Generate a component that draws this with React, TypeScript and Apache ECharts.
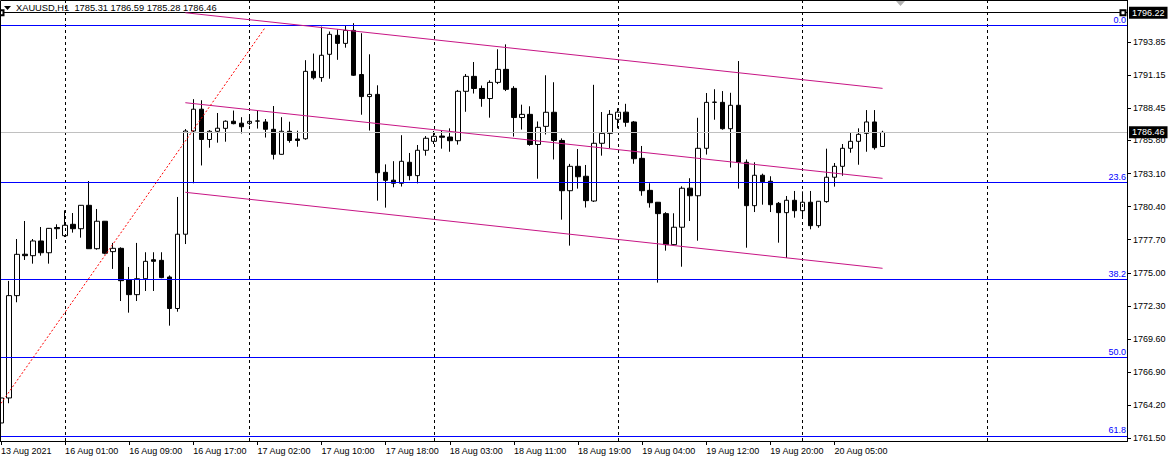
import React, { useEffect, useRef } from "react";
import * as echarts from "echarts";

// ---- data ----
const tickLabels = [
  "13 Aug 2021", "16 Aug 01:00", "16 Aug 09:00", "16 Aug 17:00", "17 Aug 02:00",
  "17 Aug 10:00", "17 Aug 18:00", "18 Aug 03:00", "18 Aug 11:00", "18 Aug 19:00",
  "19 Aug 04:00", "19 Aug 12:00", "19 Aug 20:00", "20 Aug 05:00",
];
const slotCount = 141; // visible bar slots incl. right shift
const categories = Array.from({ length: slotCount }, (_, i) => String(i));

const opens = [
  1762.75, 1764.79, 1773.14, 1776.52, 1776.40, 1777.60, 1776.64, 1778.70, 1778.03, 1778.96,
  1778.60, 1780.51, 1776.97, 1779.21, 1776.73, 1777.00, 1774.44, 1773.22, 1774.52, 1776.07,
  1776.02, 1774.66, 1772.09, 1778.15, 1786.57, 1788.35, 1785.88, 1786.55, 1786.79, 1787.37,
  1787.21, 1787.20, 1787.39, 1787.31, 1786.71, 1784.67, 1786.55, 1785.92, 1785.94, 1791.44,
  1790.93, 1792.83, 1794.38, 1793.72, 1794.78, 1791.18, 1789.38, 1789.56, 1783.20, 1782.56,
  1782.31, 1784.02, 1782.93, 1785.00, 1785.73, 1786.16, 1786.08, 1785.78, 1789.81, 1791.03,
  1790.04, 1789.22, 1790.54, 1791.60, 1790.05, 1787.67, 1787.93, 1785.47, 1786.95, 1788.10,
  1785.80, 1781.70, 1783.69, 1782.88, 1780.86, 1785.57, 1786.38, 1787.53, 1788.11, 1787.31,
  1784.34, 1781.73, 1780.76, 1779.83, 1777.30, 1778.72, 1781.91, 1781.29, 1785.16, 1788.91,
  1788.91, 1786.76, 1788.67, 1784.02, 1780.48, 1782.96, 1782.47, 1780.67, 1779.91, 1780.92,
  1780.07, 1780.76, 1778.85, 1780.81, 1782.80, 1783.69, 1785.16, 1785.73, 1786.38, 1787.31,
  1785.31,
];
const highs = [
  1765.69, 1774.34, 1777.76, 1779.23, 1777.76, 1778.74, 1778.66, 1778.96, 1780.10, 1779.88,
  1780.53, 1782.49, 1780.21, 1779.23, 1777.44, 1777.08, 1775.48, 1777.44, 1776.68, 1776.68,
  1776.68, 1774.79, 1781.19, 1786.73, 1789.17, 1789.08, 1786.65, 1788.04, 1787.44, 1788.24,
  1787.70, 1787.77, 1788.22, 1787.55, 1788.61, 1787.70, 1787.33, 1786.60, 1792.35, 1792.89,
  1795.09, 1794.69, 1794.86, 1795.16, 1795.37, 1794.55, 1792.83, 1790.30, 1783.85, 1784.11,
  1786.23, 1784.78, 1785.43, 1786.16, 1786.57, 1786.59, 1786.79, 1789.92, 1791.22, 1792.20,
  1790.28, 1790.71, 1793.24, 1793.64, 1790.23, 1788.72, 1788.59, 1787.35, 1791.12, 1790.55,
  1785.97, 1783.89, 1785.10, 1783.80, 1790.34, 1788.12, 1788.28, 1788.43, 1788.79, 1787.39,
  1785.35, 1782.31, 1780.78, 1779.95, 1779.86, 1782.06, 1782.72, 1787.65, 1789.67, 1789.98,
  1789.83, 1789.69, 1792.28, 1784.25, 1784.02, 1783.09, 1782.88, 1780.78, 1781.27, 1781.68,
  1781.65, 1781.68, 1780.86, 1785.13, 1783.96, 1785.51, 1786.49, 1786.79, 1788.28, 1788.28,
  1786.59,
];
const lows = [
  1762.18, 1764.36, 1772.60, 1776.05, 1775.75, 1776.40, 1775.75, 1777.76, 1777.92, 1778.28,
  1777.87, 1776.95, 1776.89, 1776.51, 1775.32, 1772.70, 1771.75, 1772.70, 1773.52, 1773.52,
  1774.56, 1770.69, 1771.83, 1777.35, 1782.31, 1783.76, 1785.21, 1785.62, 1785.70, 1787.12,
  1786.37, 1787.04, 1786.77, 1786.04, 1784.25, 1784.65, 1785.62, 1785.29, 1785.86, 1790.77,
  1790.59, 1790.84, 1792.38, 1793.37, 1791.06, 1787.90, 1786.61, 1780.89, 1780.32, 1781.98,
  1782.04, 1782.55, 1782.30, 1784.56, 1785.51, 1785.13, 1784.88, 1785.46, 1788.14, 1789.63,
  1788.55, 1787.66, 1790.40, 1789.83, 1786.12, 1786.69, 1785.37, 1782.68, 1786.29, 1784.25,
  1779.34, 1777.22, 1781.87, 1780.33, 1780.78, 1784.56, 1785.17, 1786.79, 1786.92, 1783.90,
  1781.29, 1780.32, 1774.20, 1776.81, 1777.20, 1775.50, 1779.23, 1777.62, 1784.65, 1787.49,
  1786.68, 1783.59, 1781.87, 1777.05, 1779.96, 1780.56, 1779.96, 1777.46, 1776.21, 1779.50,
  1779.56, 1778.55, 1778.68, 1780.72, 1782.03, 1782.92, 1784.80, 1783.82, 1784.88, 1785.05,
  1785.28,
];
const closes = [
  1764.79, 1773.14, 1776.51, 1776.40, 1777.60, 1776.64, 1778.63, 1778.60, 1778.88, 1778.60,
  1780.51, 1776.97, 1779.21, 1776.60, 1777.00, 1774.36, 1773.22, 1774.52, 1775.94, 1775.94,
  1774.61, 1772.09, 1778.15, 1786.57, 1788.35, 1785.88, 1786.55, 1786.80, 1787.37, 1787.17,
  1786.92, 1787.36, 1787.38, 1786.71, 1784.67, 1786.55, 1785.80, 1785.80, 1791.44, 1790.91,
  1792.75, 1794.46, 1793.72, 1794.78, 1791.12, 1789.38, 1789.56, 1783.17, 1782.55, 1782.31,
  1784.10, 1782.93, 1785.00, 1785.98, 1786.14, 1786.06, 1785.78, 1789.81, 1791.03, 1790.04,
  1789.22, 1790.54, 1791.60, 1789.97, 1787.67, 1787.93, 1785.47, 1786.87, 1788.10, 1785.80,
  1781.70, 1783.69, 1782.84, 1780.89, 1785.57, 1786.38, 1787.93, 1788.11, 1787.28, 1784.31,
  1781.70, 1780.72, 1779.83, 1777.30, 1778.72, 1781.90, 1781.29, 1785.16, 1788.91, 1788.93,
  1786.76, 1788.67, 1784.02, 1780.48, 1782.96, 1782.44, 1780.56, 1779.91, 1780.92, 1780.07,
  1780.76, 1778.85, 1780.84, 1782.80, 1783.69, 1785.16, 1785.73, 1786.30, 1787.31, 1785.21,
  1786.46,
];

const yTickValues = [
  1761.5, 1764.2, 1766.9, 1769.6, 1772.3, 1775.0, 1777.7,
  1780.4, 1783.1, 1785.8, 1788.45, 1791.15, 1793.85,
];
const yMin = 1761.28;
const yMax = 1797.26;

const gridLineSlots = [8, 31, 54, 77, 100, 123];

const fibHigh = 1795.19;
const fibLow = 1741.0;
const fibLevels = [0, 23.6, 38.2, 50.0, 61.8];

const hLinePrice = 1796.22;
const bidPrice = 1786.46;

const channelSlots = [23, 110];
const channelUpper = [1796.22, 1790.05];
const channelMiddle = [1788.88, 1782.71];
const channelLower = [1781.57, 1775.37];

const trendSlots = [0, 33];
const trendPrices = [1764.35, 1795.05];

const FONT = "Liberation Sans";
const SHIFT = 3; // chart canvas starts 3px left of the page edge

export default function App() {
  const ref = useRef<HTMLDivElement>(null);

  useEffect(() => {
    if (!ref.current) return;
    const chart = echarts.init(ref.current, undefined, { renderer: "svg" });

    const candleData = opens.map((o, i) => [o, closes[i], lows[i], highs[i]]);
    const showTick = (i: number) => i % 8 === 0 && i / 8 < tickLabels.length;
    const last = opens.length - 1;

    const fibLines = fibLevels.map((lvl) => ({
      yAxis: fibHigh - ((fibHigh - fibLow) * lvl) / 100,
      lineStyle: { color: "#0000ff", width: 1, type: "solid" },
      label: {
        show: true,
        position: "insideEndTop",
        formatter: lvl.toFixed(1),
        color: "#0000ff",
        fontSize: 9,
        fontFamily: FONT,
        distance: [1, 1],
      },
    }));

    const priceBox = (v: number) => ({
      show: true,
      position: "end",
      formatter: v.toFixed(2),
      color: "#fff",
      backgroundColor: "#000",
      padding: [2, 3, 1, 3],
      fontSize: 9,
      fontFamily: FONT,
      distance: 2,
    });

    const lineSeries = (slots: number[], prices: number[], color: string, type: any) => ({
      type: "line",
      data: slots.map((s, i) => [s, prices[i]]),
      symbol: "none",
      silent: true,
      z: 5,
      lineStyle: { color, width: 1, type },
      emphasis: { disabled: true },
    });

    chart.setOption({
      animation: false,
      backgroundColor: "#ffffff",
      grid: { left: 0, top: 0, width: 1130, height: 441 },
      xAxis: {
        type: "category",
        data: categories,
        boundaryGap: true,
        axisLine: { show: true, lineStyle: { color: "#000", width: 1 } },
        axisTick: {
          show: true,
          alignWithLabel: true,
          interval: (i: number) => showTick(i),
          length: 4,
          lineStyle: { color: "#000" },
        },
        axisLabel: {
          interval: (i: number) => showTick(i),
          formatter: (_v: string, i: number) => tickLabels[i / 8] ?? "",
          align: "left",
          margin: 5,
          color: "#000",
          fontSize: 9,
          fontFamily: FONT,
          hideOverlap: false,
        },
        splitLine: { show: false },
      },
      yAxis: {
        type: "value",
        position: "right",
        min: yMin,
        max: yMax,
        scale: true,
        axisLine: { show: true, lineStyle: { color: "#000", width: 1 } },
        axisTick: {
          show: true,
          length: 4,
          customValues: yTickValues,
          lineStyle: { color: "#000" },
        },
        axisLabel: {
          customValues: yTickValues,
          formatter: (v: number) => v.toFixed(2),
          margin: 6,
          color: "#000",
          fontSize: 9,
          fontFamily: FONT,
        },
        splitLine: { show: false },
      },
      series: [
        {
          type: "line",
          data: [],
          silent: true,
          z: 1,
          markLine: {
            silent: true,
            symbol: ["none", "none"],
            animation: false,
            label: { show: false },
            lineStyle: { color: "#000", width: 1, type: [3, 3] },
            data: gridLineSlots.map((s) => ({ xAxis: s })),
          },
        },
        {
          type: "candlestick",
          data: candleData,
          barWidth: 5,
          z: 3,
          silent: true,
          itemStyle: {
            color: "#ffffff",
            color0: "#000000",
            borderColor: "#000000",
            borderColor0: "#000000",
            borderWidth: 1,
          },
          emphasis: { disabled: true },
        },
        {
          type: "line",
          data: [],
          silent: true,
          z: 6,
          markLine: {
            silent: true,
            symbol: ["none", "none"],
            animation: false,
            emphasis: { disabled: true },
            data: [
              ...fibLines,
              {
                yAxis: hLinePrice,
                lineStyle: { color: "#000", width: 1, type: "solid" },
                label: priceBox(hLinePrice),
              },
              {
                yAxis: bidPrice,
                lineStyle: { color: "#c0c0c0", width: 1, type: "solid" },
                label: priceBox(bidPrice),
              },
            ],
          },
        },
        {
          type: "line",
          data: [],
          silent: true,
          z: 7,
          markLine: {
            silent: true,
            symbol: ["emptyRect", "emptyRect"],
            symbolSize: 5,
            animation: false,
            label: { show: false },
            lineStyle: { color: "#000", width: 1, type: "solid" },
            data: [[{ coord: [0, hLinePrice] }, { coord: [slotCount - 1, hLinePrice] }]],
          },
        },
        lineSeries(channelSlots, channelUpper, "#c71585", "solid"),
        lineSeries(channelSlots, channelMiddle, "#c71585", "solid"),
        lineSeries(channelSlots, channelLower, "#c71585", "solid"),
        lineSeries(trendSlots, trendPrices, "#ff0000", [2, 2]),
      ],
      graphic: [
        {
          type: "rect",
          silent: true,
          z: 100,
          shape: { x: SHIFT + 0.5, y: 0.5, width: 1127, height: 441 },
          style: { fill: "none", stroke: "#000", lineWidth: 1 },
        },
        {
          type: "polygon",
          silent: true,
          z: 100,
          shape: { points: [[SHIFT + 4, 6], [SHIFT + 11, 6], [SHIFT + 7.5, 10]] },
          style: { fill: "#000" },
        },
        {
          type: "text",
          silent: true,
          z: 100,
          x: SHIFT + 16,
          y: 8,
          style: {
            text: `XAUUSD,H1  ${opens[last].toFixed(2)} ${highs[last].toFixed(2)} ${lows[last].toFixed(2)} ${closes[last].toFixed(2)}`,
            fill: "#000",
            fontSize: 9.3,
            fontFamily: FONT,
            verticalAlign: "middle",
            align: "left",
          },
        },
        {
          type: "polygon",
          silent: true,
          z: 100,
          shape: { points: [[SHIFT + 896, 1], [SHIFT + 905, 1], [SHIFT + 900.5, 6]] },
          style: { fill: "#b0b0b0" },
        },
      ],
    });

    return () => chart.dispose();
  }, []);

  return (
    <div
      ref={ref}
      style={{ position: "absolute", left: -SHIFT, top: 0, width: 1170 + SHIFT, height: 456 }}
    />
  );
}
